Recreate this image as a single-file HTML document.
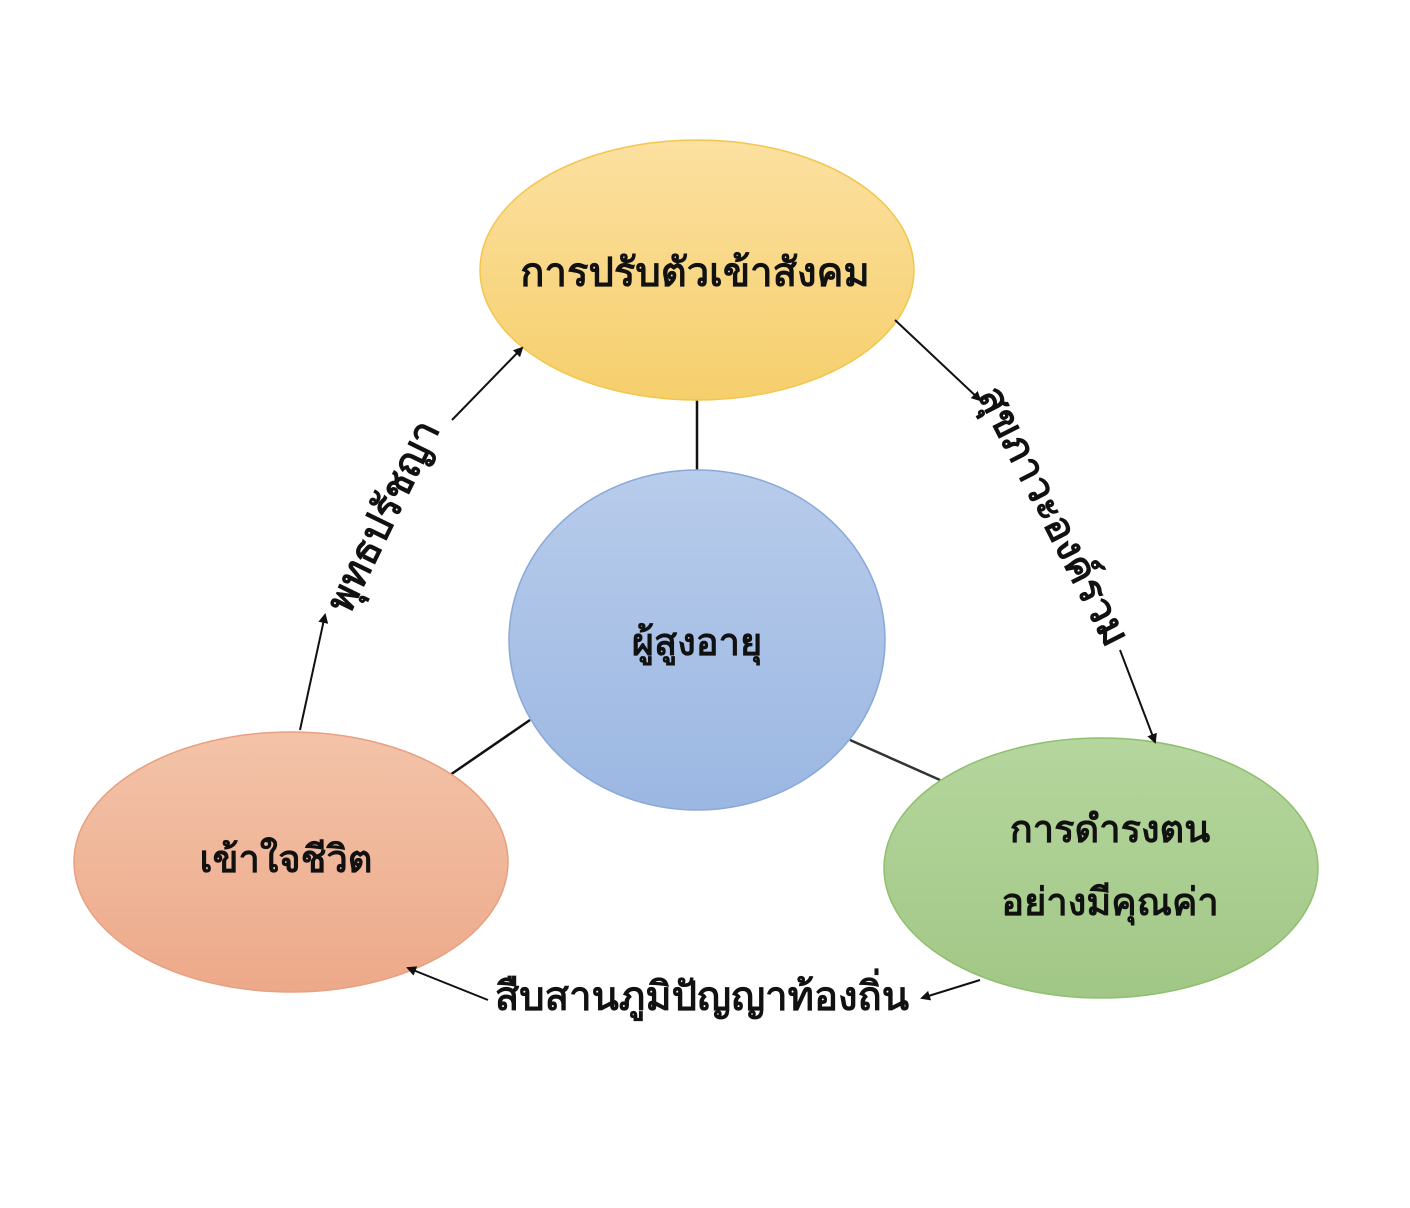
<!DOCTYPE html>
<html><head><meta charset="utf-8"><style>
html,body{margin:0;padding:0;background:#fff;}
svg{display:block;}
text{font-family:"Liberation Sans","DejaVu Sans",sans-serif;font-weight:bold;fill:#111;}
</style></head><body>
<svg width="1410" height="1208" viewBox="0 0 1410 1208" xmlns="http://www.w3.org/2000/svg">
<defs>
<linearGradient id="gy" x1="0" y1="0" x2="0" y2="1"><stop offset="0" stop-color="#fbe0a0"/><stop offset="1" stop-color="#f6cf6c"/></linearGradient>
<linearGradient id="gb" x1="0" y1="0" x2="0" y2="1"><stop offset="0" stop-color="#b8cceb"/><stop offset="1" stop-color="#9bb7e2"/></linearGradient>
<linearGradient id="gr" x1="0" y1="0" x2="0" y2="1"><stop offset="0" stop-color="#f3c3a8"/><stop offset="1" stop-color="#eda98a"/></linearGradient>
<linearGradient id="gg" x1="0" y1="0" x2="0" y2="1"><stop offset="0" stop-color="#b5d69d"/><stop offset="1" stop-color="#a1c786"/></linearGradient>
<marker id="ah" markerWidth="10" markerHeight="10" refX="8" refY="5" orient="auto" markerUnits="userSpaceOnUse"><path d="M0,0 L10,5 L0,10 z" fill="#111"/></marker>
</defs>
<line x1="697" y1="400" x2="697" y2="470" stroke="#111" stroke-width="2.5"/>
<line x1="450" y1="775" x2="530" y2="720" stroke="#111" stroke-width="2.5"/>
<line x1="850" y1="740" x2="940" y2="780" stroke="#333" stroke-width="2.5"/>
<ellipse cx="697" cy="270" rx="217" ry="130" fill="url(#gy)" stroke="#f2c64e" stroke-width="1.5"/>
<ellipse cx="697" cy="640" rx="188" ry="170" fill="url(#gb)" stroke="#8aa8d8" stroke-width="1.5"/>
<ellipse cx="291" cy="862" rx="217" ry="130" fill="url(#gr)" stroke="#e8a080" stroke-width="1.5"/>
<ellipse cx="1101" cy="868" rx="217" ry="130" fill="url(#gg)" stroke="#8fbf6f" stroke-width="1.5"/>
<g stroke="#111" stroke-width="2" marker-end="url(#ah)">
<line x1="300" y1="730" x2="325" y2="615"/>
<line x1="452" y1="420" x2="522" y2="348"/>
<line x1="895" y1="320" x2="980" y2="400"/>
<line x1="1120" y1="650" x2="1155" y2="742"/>
<line x1="980" y1="980" x2="922" y2="998"/>
<line x1="488" y1="1000" x2="408" y2="968"/>
</g>
<text x="695" y="286" font-size="40" text-anchor="middle">การปรับตัวเข้าสังคม</text>
<text x="697" y="655" font-size="38" text-anchor="middle">ผู้สูงอายุ</text>
<text x="286" y="872" font-size="38" text-anchor="middle">เข้าใจชีวิต</text>
<text x="1110" y="842" font-size="38" text-anchor="middle">การดำรงตน</text>
<text x="1110" y="915" font-size="38" text-anchor="middle">อย่างมีคุณค่า</text>
<text x="702" y="1010" font-size="40" text-anchor="middle">สืบสานภูมิปัญญาท้องถิ่น</text>
<text transform="translate(395,522) rotate(-64)" font-size="40" text-anchor="middle">พุทธปรัชญา</text>
<text transform="translate(1042,522) rotate(63)" font-size="40" text-anchor="middle">สุขภาวะองค์รวม</text>
</svg>
</body></html>
